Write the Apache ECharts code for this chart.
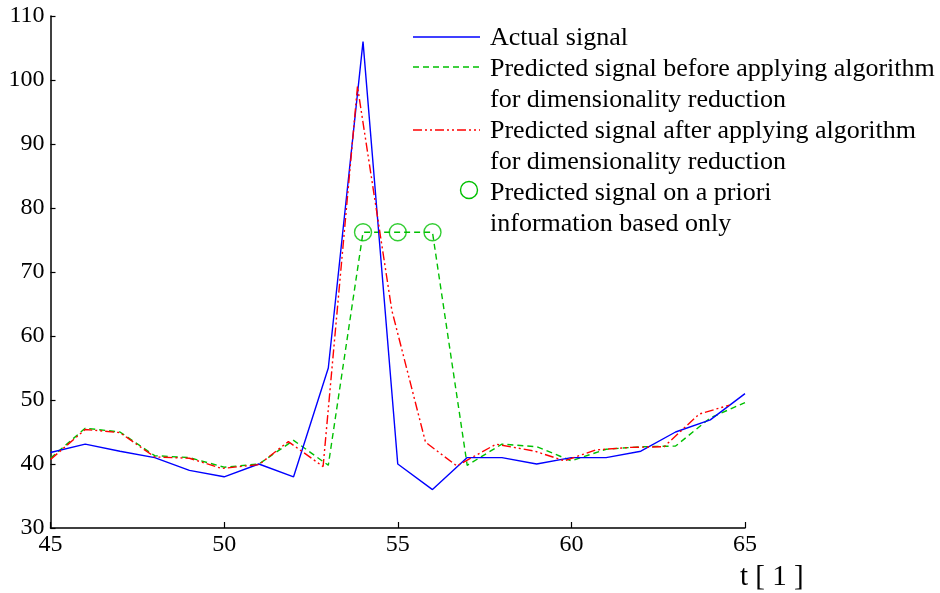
<!DOCTYPE html>
<html>
<head>
<meta charset="utf-8">
<script src="https://cdn.jsdelivr.net/npm/echarts@6/dist/echarts.min.js"></script>
<style>html,body{margin:0;padding:0;background:#fff;}#c{width:940px;height:593px;}</style>
</head>
<body>
<div id="c"></div>
<script>
// ---- data ----
const xTicks = [45, 50, 55, 60, 65];
const yTicks = [30, 40, 50, 60, 70, 80, 90, 100, 110];

const actualT = [45,46,47,48,49,50,51,52,53,54,55,56,57,58,59,60,61,62,63,64,65];
const actualV = [41.8,43.1,42.0,41.0,39.0,38.0,40.0,38.0,55.0,106.0,40.0,36.0,41.0,41.0,40.0,41.0,41.0,42.0,45.0,46.9,51.0];

const beforeT = [45,46,47,48,49,50,51,52,53,54,55,56,57,58,59,60,61,62,63,64,65];
const beforeV = [40.9,45.6,45.0,41.3,41.0,39.5,40.0,43.7,39.8,76.2,76.2,76.2,39.8,43.1,42.7,40.5,42.3,42.7,42.8,47.2,49.6];

const afterT = [45,46,47,48,49,49.93,51,51.85,52.85,53.84,54.83,55.8,56.7,57.83,58.95,59.8,60.7,61.7,62.67,63.68,64.55];
const afterV = [40.7,45.4,44.9,41.1,40.9,39.3,39.9,43.5,39.6,99.0,64.0,43.4,39.7,43.1,42.0,40.5,42.2,42.6,42.7,47.8,49.2];

const aprioriT = [54, 55, 56];
const aprioriV = [76.2, 76.2, 76.2];

const legendNames = [
  'Actual signal',
  'Predicted signal before applying algorithm\nfor dimensionality reduction',
  'Predicted signal after applying algorithm\nfor dimensionality reduction',
  'Predicted signal on a priori\ninformation based only'
];
const xAxisTitle = 't [ 1 ]';

// ---- styles ----
const FONT = '"Liberation Serif", "Times New Roman", serif';
const BLUE = '#0000ff', GREEN = '#00c000', RED = '#ff0000';
const greenDash = [6, 4];
const redDash = [9, 3, 2, 3, 2, 3];

function pairs(t, v) { return t.map((x, i) => [x, v[i]]); }

const chart = echarts.init(document.getElementById('c'));

const legendText = [];
const textLines = [];
legendNames.forEach(n => n.split('\n').forEach(l => textLines.push(l)));
textLines.forEach((l, i) => {
  legendText.push({
    type: 'text', x: 490, y: 38 + i * 31,
    style: {text: l, fontFamily: FONT, fontSize: 26, fill: '#000', verticalAlign: 'middle', align: 'left'}
  });
});

chart.setOption({
  animation: false,
  backgroundColor: '#fff',
  grid: {left: 50.5, right: 195, top: 16, bottom: 65, containLabel: false},
  xAxis: {
    type: 'value', min: 45, max: 65, interval: 5,
    axisLine: {show: true, lineStyle: {color: '#000', width: 1.5}},
    axisTick: {show: true, inside: true, length: 6, lineStyle: {color: '#000', width: 1.2}},
    axisLabel: {color: '#000', fontFamily: FONT, fontSize: 24, margin: 5,
      formatter: v => xTicks.includes(v) ? String(v) : ''},
    splitLine: {show: false}
  },
  yAxis: {
    type: 'value', min: 30, max: 110, interval: 10,
    axisLine: {show: true, lineStyle: {color: '#000', width: 1.5}},
    axisTick: {show: true, inside: true, length: 5, lineStyle: {color: '#000', width: 1.2}},
    axisLabel: {color: '#000', fontFamily: FONT, fontSize: 24, margin: 6,
      formatter: v => yTicks.includes(v) ? String(v) : ''},
    splitLine: {show: false}
  },
  series: [
    {name: legendNames[0], type: 'line', data: pairs(actualT, actualV), showSymbol: false, symbol: 'none',
      lineStyle: {color: BLUE, width: 1.4}, z: 3},
    {name: legendNames[1], type: 'line', data: pairs(beforeT, beforeV), showSymbol: false, symbol: 'none',
      lineStyle: {color: GREEN, width: 1.4, type: greenDash}, z: 2},
    {name: legendNames[2], type: 'line', data: pairs(afterT, afterV), showSymbol: false, symbol: 'none',
      lineStyle: {color: RED, width: 1.4, type: redDash}, z: 4},
    {name: legendNames[3], type: 'scatter', data: pairs(aprioriT, aprioriV), symbol: 'circle', symbolSize: 17,
      itemStyle: {color: 'rgba(0,0,0,0)', borderColor: GREEN, borderWidth: 1.4}, z: 5}
  ],
  graphic: [
    {type: 'line', shape: {x1: 413, y1: 37, x2: 480, y2: 37}, style: {stroke: BLUE, lineWidth: 1.4}},
    {type: 'line', shape: {x1: 413, y1: 67, x2: 480, y2: 67}, style: {stroke: GREEN, lineWidth: 1.4, lineDash: greenDash}},
    {type: 'line', shape: {x1: 413, y1: 130, x2: 480, y2: 130}, style: {stroke: RED, lineWidth: 1.4, lineDash: redDash}},
    {type: 'circle', shape: {cx: 469, cy: 190, r: 8.5}, style: {fill: 'none', stroke: GREEN, lineWidth: 1.4}},
    ...legendText,
    {type: 'text', x: 740, y: 577, style: {text: xAxisTitle, fontFamily: FONT, fontSize: 29, fill: '#000', verticalAlign: 'middle', align: 'left'}}
  ]
});
</script>
</body>
</html>
